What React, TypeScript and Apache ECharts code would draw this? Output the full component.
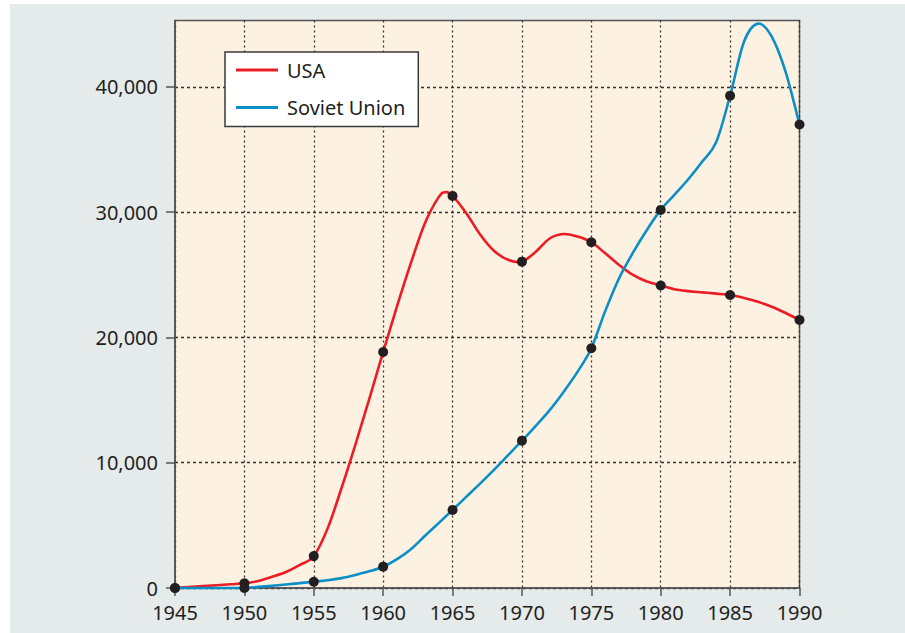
import React, { useEffect, useRef } from 'react';
import * as echarts from 'echarts';

// Annual (and one half-year) readings of the drawn curves
const usaYears = [1945, 1946, 1947, 1948, 1949, 1950, 1951, 1952, 1953, 1954, 1955, 1956, 1957, 1958, 1959, 1960, 1961, 1962, 1963, 1964, 1964.5, 1965, 1966, 1967, 1968, 1969, 1970, 1971, 1972, 1973, 1974, 1975, 1976, 1977, 1978, 1979, 1980, 1981, 1982, 1983, 1984, 1985, 1986, 1987, 1988, 1989, 1990];
const usaValues = [0, 75, 150, 225, 300, 375, 560, 900, 1280, 1840, 2550, 4760, 7980, 11450, 15090, 18840, 22500, 25950, 29100, 31200, 31600, 31300, 29900, 28200, 26900, 26200, 26050, 26850, 27900, 28260, 28050, 27600, 26720, 25790, 24990, 24460, 24150, 23850, 23700, 23600, 23500, 23390, 23150, 22850, 22450, 21950, 21400];

const sovietYears = [1945, 1946, 1947, 1948, 1949, 1950, 1951, 1952, 1953, 1954, 1955, 1956, 1957, 1958, 1959, 1960, 1961, 1962, 1963, 1964, 1965, 1966, 1967, 1968, 1969, 1970, 1971, 1972, 1973, 1974, 1975, 1976, 1977, 1978, 1979, 1980, 1981, 1982, 1983, 1984, 1985, 1986, 1987, 1988, 1989, 1990];
const sovietValues = [0, 0, 0, 0, 0, 5, 90, 180, 280, 390, 500, 620, 790, 1040, 1330, 1700, 2300, 3100, 4150, 5180, 6230, 7290, 8350, 9450, 10600, 11760, 12950, 14200, 15650, 17250, 19140, 22100, 24730, 26770, 28580, 30180, 31400, 32650, 34040, 35600, 39300, 43600, 45050, 44020, 41200, 37000];

// Marked data points (every five years)
const dotYears = [1945, 1950, 1955, 1960, 1965, 1970, 1975, 1980, 1985, 1990];
const usaDots = [0, 375, 2550, 18840, 31300, 26050, 27600, 24150, 23390, 21400];
const sovietDots = [0, 5, 500, 1700, 6230, 11760, 19140, 30180, 39300, 37000];

const yTicks = [0, 10000, 20000, 30000, 40000];

const FONT = 'Noto Sans';
const TEXT = '#231f20';
const AXIS = '#555555';
const RED = '#ec1c24';
const BLUE = '#0a8fc6';

function splinePath(pts: number[][]): string {
  if (!pts.length) return '';
  let d = `M${pts[0][0]},${pts[0][1]}`;
  for (let i = 0; i < pts.length - 1; i++) {
    const p0 = pts[Math.max(0, i - 1)];
    const p1 = pts[i];
    const p2 = pts[i + 1];
    const p3 = pts[Math.min(pts.length - 1, i + 2)];
    const c1x = p1[0] + (p2[0] - p0[0]) / 6;
    const c1y = p1[1] + (p2[1] - p0[1]) / 6;
    const c2x = p2[0] - (p3[0] - p1[0]) / 6;
    const c2y = p2[1] - (p3[1] - p1[1]) / 6;
    d += ` C${c1x},${c1y} ${c2x},${c2y} ${p2[0]},${p2[1]}`;
  }
  return d;
}

function curveSeries(name: string, xs: number[], ys: number[], color: string) {
  return {
    name,
    type: 'custom',
    coordinateSystem: 'cartesian2d',
    data: [[xs[0], ys[0]]],
    encode: { x: 0, y: 1 },
    itemStyle: { color },
    z: 2,
    silent: true,
    renderItem: (params: any, api: any) => {
      const pts = xs.map((x, i) => api.coord([x, ys[i]]));
      return {
        type: 'path',
        shape: { pathData: splinePath(pts) },
        style: { stroke: color, lineWidth: 2.6, fill: 'none' },
      };
    },
  };
}

export default function App() {
  const ref = useRef<HTMLDivElement>(null);

  useEffect(() => {
    document.body.style.margin = '0';
    const chart = echarts.init(ref.current as HTMLDivElement, null, { renderer: 'svg' });
    const usaPts = dotYears.map((y, i) => [y, usaDots[i]]);
    const sovietPts = dotYears.map((y, i) => [y, sovietDots[i]]);

    chart.setOption({
      animation: false,
      backgroundColor: 'transparent',
      grid: {
        left: 175,
        top: 20.5,
        right: 105.5,
        bottom: 45,
        show: true,
        backgroundColor: '#fdf1e2',
        borderColor: AXIS,
        borderWidth: 1.5,
      },
      legend: {
        data: [
          { name: 'USA', itemStyle: { color: RED } },
          { name: 'Soviet Union', itemStyle: { color: BLUE } },
        ],
        orient: 'vertical',
        left: 225,
        top: 52,
        backgroundColor: '#ffffff',
        borderColor: '#3a3a3a',
        borderWidth: 1.5,
        borderRadius: 0,
        padding: [6, 13, 7, 11],
        itemWidth: 42,
        itemHeight: 3,
        itemGap: 13.5,
        icon: 'rect',
        selectedMode: false,
        textStyle: { fontSize: 20, color: TEXT, fontFamily: FONT, lineHeight: 24, padding: [0, 0, 0, 4] },
      },
      xAxis: {
        type: 'value',
        min: 1945,
        max: 1990,
        interval: 5,
        axisLine: { show: true, onZero: false, lineStyle: { color: AXIS, width: 1.5 } },
        axisTick: { show: true, length: 8, lineStyle: { color: AXIS, width: 1.5 } },
        axisLabel: {
          formatter: (v: number) => String(v),
          fontSize: 20,
          color: TEXT,
          fontFamily: FONT,
          margin: 14,
        },
        splitLine: { show: true, lineStyle: { color: '#333', type: [2, 3], width: 1.3 } },
      },
      yAxis: {
        type: 'value',
        min: 0,
        max: 45300,
        interval: 10000,
        axisLine: { show: true, lineStyle: { color: AXIS, width: 1.5 } },
        axisTick: { show: true, length: 9, customValues: yTicks, lineStyle: { color: AXIS, width: 1.5 } },
        axisLabel: {
          customValues: yTicks,
          fontSize: 20,
          color: TEXT,
          fontFamily: FONT,
          margin: 17,
        },
        splitLine: { show: true, lineStyle: { color: '#333', type: [3, 3], width: 1.3 } },
      },
      series: [
        curveSeries('USA', usaYears, usaValues, RED),
        curveSeries('Soviet Union', sovietYears, sovietValues, BLUE),
        {
          name: 'USA points',
          type: 'scatter',
          data: usaPts,
          symbolSize: 10,
          itemStyle: { color: TEXT, opacity: 1 },
          z: 3,
        },
        {
          name: 'Soviet points',
          type: 'scatter',
          data: sovietPts,
          symbolSize: 10,
          itemStyle: { color: TEXT, opacity: 1 },
          z: 3,
        },
      ],
    });
    return () => chart.dispose();
  }, []);

  return (
    <div style={{ position: 'relative', width: 905, height: 633, background: '#ffffff' }}>
      <div style={{ position: 'absolute', left: 10, top: 4, right: 0, bottom: 0, background: '#e5eaea' }} />
      <div ref={ref} style={{ position: 'absolute', left: 0, top: 0, width: 905, height: 633 }} />
    </div>
  );
}
